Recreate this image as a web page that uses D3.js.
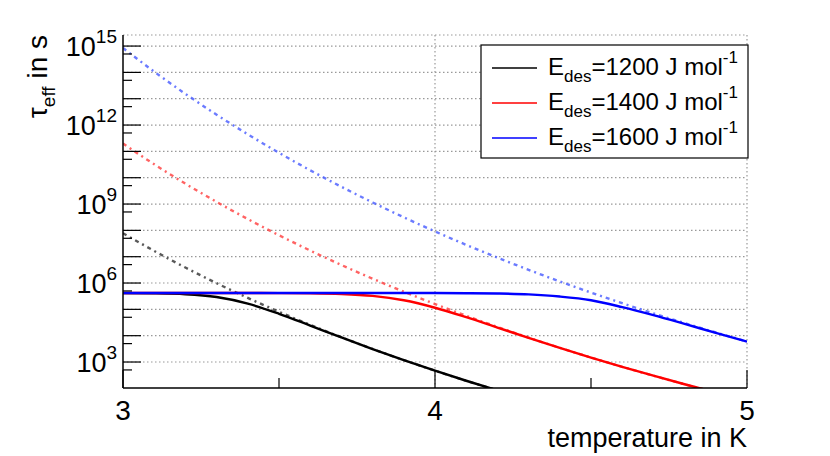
<!DOCTYPE html>
<html><head><meta charset="utf-8">
<script src="https://cdn.jsdelivr.net/npm/d3@7"></script>
<style>body{margin:0;background:#fff}text{font-family:"Liberation Sans",Arial,sans-serif}</style>
</head><body><svg id="c" width="830" height="456"></svg>
<script>
const temps = [3.0,3.1,3.2,3.3,3.4,3.5,3.6,3.7,3.8,3.9,4.0,4.1,4.2,4.3,4.4,4.5,4.6,4.7,4.8,4.9,5.0];
// log10(tau)
const blackEff = [5.618,5.609,5.576,5.467,5.217,4.832,4.385,3.932,3.492,3.069,2.669,2.288,1.924];
const blackDes = [7.893,7.219,6.588,5.994,5.435,4.909,4.411,3.941,3.495,3.072,2.670,2.288,1.924];
const redEff = [5.62,5.62,5.62,5.62,5.619,5.617,5.61,5.584,5.511,5.344,5.062,4.701,4.310,3.918,3.537,3.170,2.817,2.480,2.155,1.844,1.546];
const redDes = [11.297,10.510,9.773,9.081,8.429,7.814,7.234,6.685,6.165,5.671,5.203,4.757,4.332,3.927,3.540,3.171,2.818,2.480,2.155,1.844,1.546];
const blueEff = [5.62,5.62,5.62,5.62,5.62,5.62,5.62,5.62,5.62,5.62,5.619,5.614,5.601,5.567,5.486,5.346,5.084,4.779,4.447,4.107,3.774];
const blueDes = [14.927,14.028,13.185,12.393,11.648,10.946,10.282,9.655,9.06,8.496,7.96,7.450,6.965,6.502,6.06,5.638,5.234,4.847,4.477,4.121,3.78];
const series = [
 {name:"1200", color:"#000000", eff:blackEff, des:blackDes, dcol:"rgba(60,60,60,0.85)"},
 {name:"1400", color:"#ff0000", eff:redEff, des:redDes, dcol:"rgba(255,60,60,0.8)"},
 {name:"1600", color:"#0000ff", eff:blueEff, des:blueDes, dcol:"rgba(70,90,255,0.8)"}
];
const xTicks = [3,4,5];
const yLabelExps = [3,6,9,12,15];

const svg = d3.select("#c");
const L=123,R=747,T=35,B=388;
const x = d3.scaleLinear().domain([3,5]).range([L,R]);
const y = d3.scaleLinear().domain([2.013,15.42]).range([B,T]);
const gridCol="#999";
for(let e=3;e<=15;e++){
  svg.append("line").attr("x1",L).attr("x2",R).attr("y1",y(e)).attr("y2",y(e))
   .attr("stroke",gridCol).attr("stroke-width",1.2).attr("stroke-dasharray","1.5,2.5");
}
[4,5].forEach(v=>svg.append("line").attr("x1",x(v)).attr("x2",x(v)).attr("y1",T).attr("y2",B)
   .attr("stroke",gridCol).attr("stroke-width",1.2).attr("stroke-dasharray","1.5,2.5"));
svg.append("line").attr("x1",L).attr("x2",R).attr("y1",T).attr("y2",T)
   .attr("stroke",gridCol).attr("stroke-width",1.2).attr("stroke-dasharray","1.5,2.5");
svg.append("clipPath").attr("id","clp").append("rect").attr("x",L).attr("y",T).attr("width",R-L).attr("height",B-T);
const g = svg.append("g").attr("clip-path","url(#clp)");
const line = d3.line().x(d=>x(d[0])).y(d=>y(d[1])).curve(d3.curveMonotoneX);
series.forEach(s=>{
  const pts = s.des.map((v,i)=>[temps[i],v]);
  g.append("path").attr("d",line(pts)).attr("fill","none").attr("stroke",s.dcol)
   .attr("stroke-width",2.4).attr("stroke-dasharray","4,4,2,4");
});
series.forEach(s=>{
  const pts = s.eff.map((v,i)=>[temps[i],v]);
  g.append("path").attr("d",line(pts)).attr("fill","none").attr("stroke",s.color).attr("stroke-width",2.4);
});
svg.append("line").attr("x1",L).attr("x2",L).attr("y1",T).attr("y2",B).attr("stroke","#000").attr("stroke-width",1.5);
svg.append("line").attr("x1",L).attr("x2",R).attr("y1",B).attr("y2",B).attr("stroke","#000").attr("stroke-width",1.5);
for(let e=3;e<=15;e++){
  svg.append("line").attr("x1",L).attr("x2",L+18).attr("y1",y(e)).attr("y2",y(e)).attr("stroke","#000").attr("stroke-width",1.2);
}
for(let e=2;e<=15;e++){
  const v=e+Math.log10(5);
  if(v>2.013&&v<15.42) svg.append("line").attr("x1",L).attr("x2",L+9).attr("y1",y(v)).attr("y2",y(v)).attr("stroke","#000").attr("stroke-width",1.2);
}
for(let t=3;t<=5.001;t+=0.1){
  const r=Math.round(t*10)/10;
  const len = (Math.abs(r-Math.round(r))<1e-6)?18:(Math.abs(r*2-Math.round(r*2))<1e-6?10:0);
  if(len) svg.append("line").attr("x1",x(r)).attr("x2",x(r)).attr("y1",B).attr("y2",B-len).attr("stroke","#000").attr("stroke-width",1.2);
}
xTicks.forEach(v=>svg.append("text").attr("x",x(v)).attr("y",B+32).attr("text-anchor","middle")
  .attr("font-size",28).text(v));
yLabelExps.forEach(e=>{
  const t=svg.append("text").attr("x",L-6).attr("y",y(e)+10).attr("text-anchor","end").attr("font-size",27);
  t.append("tspan").text("10");
  t.append("tspan").attr("dy",-13).attr("font-size",19).text(e);
});
svg.append("text").attr("x",R).attr("y",447).attr("text-anchor","end").attr("font-size",27).text("temperature in K");
const yt=svg.append("text").attr("transform",`translate(47,${T}) rotate(-90)`).attr("text-anchor","end").attr("font-size",28);
yt.append("tspan").text("τ");
yt.append("tspan").attr("dy",8).attr("font-size",19).text("eff");
yt.append("tspan").attr("dy",-8).text(" in s");
svg.append("rect").attr("x",481).attr("y",45).attr("width",267).attr("height",113).attr("fill","#fff").attr("stroke","#000").attr("stroke-width",1.2);
series.forEach((s,i)=>{
  const ry=66+i*35;
  svg.append("line").attr("x1",492).attr("x2",537).attr("y1",ry+2).attr("y2",ry+2).attr("stroke",s.color).attr("stroke-width",1.3);
  const t=svg.append("text").attr("x",548).attr("y",ry+9).attr("font-size",24);
  t.append("tspan").text("E");
  t.append("tspan").attr("dy",7).attr("font-size",17).text("des");
  t.append("tspan").attr("dy",-7).text("="+s.name+" J mol");
  t.append("tspan").attr("dy",-12).attr("font-size",17).text("-1");
});
</script></body></html>
